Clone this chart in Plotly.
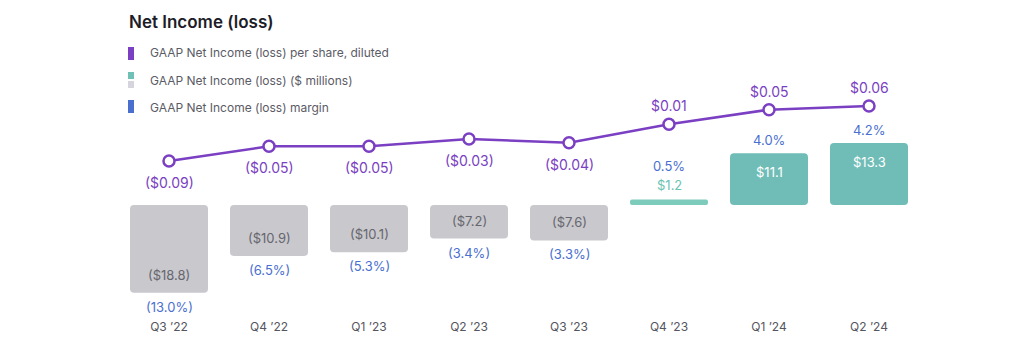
import plotly.graph_objects as go

quarters = ["Q3 ’22", "Q4 ’22", "Q1 ’23", "Q2 ’23", "Q3 ’23", "Q4 ’23", "Q1 ’24", "Q2 ’24"]
net_income = [-18.8, -10.9, -10.1, -7.2, -7.6, 1.2, 11.1, 13.3]
eps = [-0.09, -0.05, -0.05, -0.03, -0.04, 0.01, 0.05, 0.06]
margin_pct = [-13.0, -6.5, -5.3, -3.4, -3.3, 0.5, 4.0, 4.2]

PURPLE = "#7a3fc2"
BLUE = "#4a6fcf"
GRAY_BAR = "#c9c8cd"
TEAL = "#70bdb7"
FONT = "Inter"

def money(v, d=1):
    s = f"${abs(v):.{d}f}"
    return f"({s})" if v < 0 else s

def pct(v):
    s = f"{abs(v):.1f}%"
    return f"({s})" if v < 0 else s

SMALL = 5  # bars shorter than this get their label outside
bar_colors = [GRAY_BAR if v < 0 else ("#7ccbbb" if v < SMALL else TEAL) for v in net_income]

OFF = 8  # page body margin
W, H = 1032, 360
L, R, T, B = 119 - OFF, 919 - OFF, 60 - OFF, 318 - OFF

def px(xp):
    return (xp - OFF - L) / (R - L)
def py(yp):
    return (B - (yp - OFF)) / (B - T)

fig = go.Figure()
# explicit base -> plotly rounds both ends of each bar
fig.add_trace(go.Bar(
    x=quarters, y=net_income, base=[0] * len(net_income), yaxis="y",
    marker=dict(color=bar_colors, line=dict(width=0)),
    hoverinfo="skip",
))
fig.add_trace(go.Scatter(
    x=quarters, y=eps, yaxis="y2", mode="lines+markers",
    line=dict(color=PURPLE, width=2.5),
    marker=dict(size=11, color="white", line=dict(color=PURPLE, width=2.5)),
    cliponaxis=False,
    hoverinfo="skip",
))

annotations = []
for q, e in zip(quarters, eps):
    annotations.append(dict(x=q, y=e, xref="x", yref="y2", text=money(e, 2), showarrow=False,
                            yanchor="top" if e < 0 else "bottom", yshift=-11 if e < 0 else 8,
                            font=dict(family=FONT, size=14, color=PURPLE)))

for q, v, m in zip(quarters, net_income, margin_pct):
    if v < 0:
        annotations.append(dict(x=q, y=v, xref="x", yref="y", text=money(v), showarrow=False,
                                yanchor="bottom", yshift=8,
                                font=dict(family=FONT, size=13, color="#66666e")))
        annotations.append(dict(x=q, y=v, xref="x", yref="y", text=pct(m), showarrow=False,
                                yanchor="top", yshift=-4,
                                font=dict(family=FONT, size=13, color=BLUE)))
    elif v < SMALL:
        annotations.append(dict(x=q, y=v, xref="x", yref="y", text=money(v), showarrow=False,
                                yanchor="bottom", yshift=4,
                                font=dict(family=FONT, size=13, color="#6cc3b3")))
        annotations.append(dict(x=q, y=v, xref="x", yref="y", text=pct(m), showarrow=False,
                                yanchor="bottom", yshift=23,
                                font=dict(family=FONT, size=13, color=BLUE)))
    else:
        annotations.append(dict(x=q, y=v, xref="x", yref="y", text=money(v), showarrow=False,
                                yanchor="top", yshift=-9,
                                font=dict(family=FONT, size=13, color="white")))
        annotations.append(dict(x=q, y=v, xref="x", yref="y", text=pct(m), showarrow=False,
                                yanchor="bottom", yshift=3,
                                font=dict(family=FONT, size=13, color=BLUE)))

annotations.append(dict(x=px(127), y=py(22), xref="paper", yref="paper", xanchor="left", yanchor="middle",
                        text="Net Income (loss)", showarrow=False,
                        font=dict(family=FONT, size=17, color="#1d1d28", weight=600)))
legend_items = ["GAAP Net Income (loss) per share, diluted", "GAAP Net Income (loss) ($ millions)",
                "GAAP Net Income (loss) margin"]
legend_y = [53, 80, 107]
for t, yy in zip(legend_items, legend_y):
    annotations.append(dict(x=px(148), y=py(yy), xref="paper", yref="paper", xanchor="left", yanchor="middle",
                            text=t, showarrow=False, font=dict(family=FONT, size=12, color="#5b5b66")))

shapes = [
    dict(type="rect", xref="paper", yref="paper", x0=px(128), x1=px(134), y0=py(60), y1=py(47),
         fillcolor=PURPLE, line=dict(width=0)),
    dict(type="rect", xref="paper", yref="paper", x0=px(128), x1=px(134), y0=py(79), y1=py(72),
         fillcolor="#6fc0b5", line=dict(width=0)),
    dict(type="rect", xref="paper", yref="paper", x0=px(128), x1=px(134), y0=py(88), y1=py(81),
         fillcolor="#d6d4dc", line=dict(width=0)),
    dict(type="rect", xref="paper", yref="paper", x0=px(128), x1=px(134), y0=py(113), y1=py(100),
         fillcolor="#4a6fcf", line=dict(width=0)),
]

# axis ranges: bar zero at page y=205 (4.67 px/unit); eps zero at page y=128 (367 px/unit)
top_px, bot_px = T + OFF, B + OFF
bar_range = [-(bot_px - 205) / 4.67, (205 - top_px) / 4.67]
eps_range = [-(bot_px - 128) / 367, (128 - top_px) / 367]

fig.update_layout(
    width=W, height=H,
    margin=dict(l=L, r=W - R, t=T, b=H - B),
    paper_bgcolor="white", plot_bgcolor="white",
    showlegend=False,
    bargap=0.22,
    barcornerradius=4,
    font=dict(family=FONT),
    xaxis=dict(range=[-0.5, 7.5], showgrid=False, zeroline=False, showline=False, ticks="",
               tickfont=dict(family=FONT, size=12, color="#55555e")),
    yaxis=dict(range=bar_range, visible=False, showgrid=False, zeroline=False),
    yaxis2=dict(range=eps_range, overlaying="y", visible=False, showgrid=False, zeroline=False),
    annotations=annotations,
    shapes=shapes,
)

fig.write_html("out.html")
